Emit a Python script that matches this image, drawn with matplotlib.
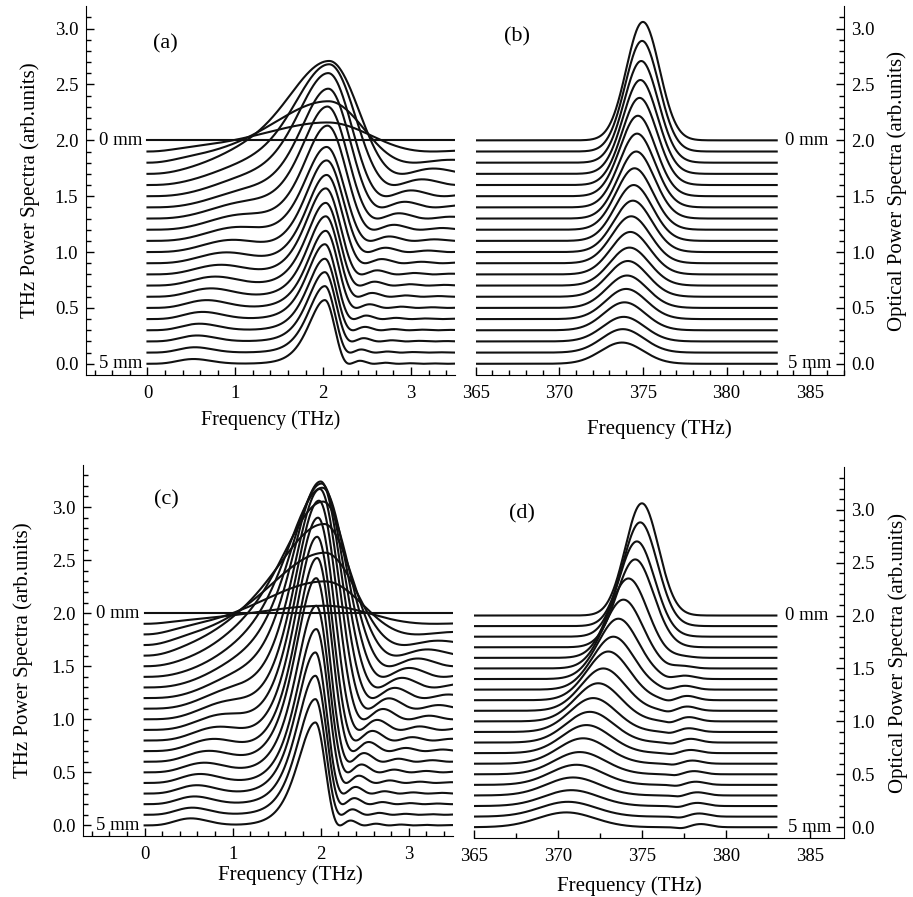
import numpy as np
import matplotlib
matplotlib.use('Agg')
import matplotlib.pyplot as plt

plt.rcParams['font.family'] = ['Liberation Serif', 'DejaVu Serif']

# distance index 0..20 -> 0 mm ... 5 mm, each curve shifted by 0.1
offsets = [2.0 - 0.1 * i for i in range(21)]

# (a) THz spectra: peak height, centre, low-side half width, high-side first-zero width,
#     low-frequency shoulder height / centre / width
a_h  = [0.0, 0.26, 0.55, 1.01, 1.08, 1.10, 1.06, 1.00, 0.93, 0.84, 0.82, 0.79, 0.77, 0.74, 0.72, 0.69, 0.67, 0.64, 0.62, 0.595, 0.57]
a_fc = [2.05, 2.05, 2.06, 2.07, 2.07, 2.06, 2.06, 2.05, 2.05, 2.04, 2.04, 2.04, 2.03, 2.03, 2.03, 2.03, 2.02, 2.02, 2.02, 2.02, 2.02]
a_hw = [0.9, 0.90, 0.80, 0.62, 0.52, 0.45, 0.40, 0.36, 0.33, 0.31, 0.29, 0.28, 0.27, 0.26, 0.25, 0.245, 0.24, 0.235, 0.23, 0.225, 0.22]
a_wr = [1.0, 1.20, 0.98, 0.83, 0.74, 0.66, 0.61, 0.57, 0.53, 0.50, 0.47, 0.44, 0.41, 0.39, 0.37, 0.35, 0.33, 0.32, 0.31, 0.29, 0.28]
a_b  = [0.0, 0.0, 0.0, 0.06, 0.08, 0.10, 0.11, 0.12, 0.12, 0.115, 0.105, 0.095, 0.085, 0.08, 0.075, 0.07, 0.065, 0.06, 0.055, 0.05, 0.045]
a_fb = [1.0, 1.0, 1.0, 1.0, 1.0, 1.05, 1.07, 1.06, 1.04, 1.0, 0.95, 0.89, 0.83, 0.77, 0.72, 0.67, 0.62, 0.58, 0.55, 0.52, 0.50]
a_sb = [0.5, 0.5, 0.5, 0.5, 0.5, 0.5, 0.5, 0.5, 0.48, 0.46, 0.44, 0.42, 0.40, 0.38, 0.36, 0.34, 0.33, 0.32, 0.31, 0.30, 0.30]

# (c) THz spectra, second case
c_h  = [0.0, 0.17, 0.50, 0.87, 1.24, 1.55, 1.78, 1.92, 2.04, 2.07, 2.06, 2.00, 1.92, 1.82, 1.73, 1.57, 1.45, 1.33, 1.21, 1.09, 0.97]
c_fc = [2.05, 2.05, 2.05, 2.05, 2.04, 2.03, 2.02, 2.01, 2.00, 1.99, 1.98, 1.97, 1.96, 1.96, 1.95, 1.95, 1.95, 1.94, 1.94, 1.94, 1.94]
c_hw = [1.0, 1.00, 0.90, 0.80, 0.70, 0.60, 0.52, 0.46, 0.41, 0.37, 0.34, 0.32, 0.30, 0.29, 0.28, 0.27, 0.26, 0.255, 0.25, 0.245, 0.24]
c_wr = [1.0, 1.25, 1.05, 0.90, 0.82, 0.75, 0.69, 0.64, 0.59, 0.55, 0.51, 0.47, 0.44, 0.41, 0.38, 0.36, 0.34, 0.32, 0.31, 0.295, 0.28]
c_b  = [0.0, 0.0, 0.0, 0.0, 0.05, 0.08, 0.10, 0.12, 0.13, 0.14, 0.14, 0.13, 0.12, 0.11, 0.10, 0.09, 0.085, 0.08, 0.075, 0.07, 0.07]
c_fb = [1.0, 1.0, 1.0, 1.0, 1.0, 1.05, 1.05, 1.03, 1.0, 0.96, 0.92, 0.87, 0.82, 0.77, 0.72, 0.67, 0.62, 0.58, 0.55, 0.52, 0.50]
c_sb = [0.5, 0.5, 0.5, 0.5, 0.5, 0.5, 0.5, 0.48, 0.46, 0.44, 0.42, 0.40, 0.38, 0.36, 0.35, 0.34, 0.33, 0.32, 0.31, 0.30, 0.30]

# (b) optical spectra: peak height, centre (THz), width
b_h  = [1.06, 0.99, 0.91, 0.84, 0.78, 0.72, 0.66, 0.60, 0.55, 0.50, 0.46, 0.42, 0.38, 0.34, 0.32, 0.29, 0.27, 0.25, 0.22, 0.21, 0.19]
b_fc = [375.0, 374.95, 374.9, 374.85, 374.8, 374.7, 374.65, 374.6, 374.5, 374.45, 374.4, 374.3, 374.25, 374.2, 374.1, 374.05, 374.0, 373.9, 373.85, 373.8, 373.75]
b_w  = [1.40, 1.42, 1.44, 1.46, 1.48, 1.50, 1.52, 1.54, 1.56, 1.58, 1.60, 1.62, 1.64, 1.66, 1.68, 1.70, 1.72, 1.74, 1.76, 1.78, 1.80]

# (d) optical spectra, second case, with a weak satellite on the blue side
d_h  = [1.06, 0.98, 0.90, 0.83, 0.75, 0.65, 0.57, 0.50, 0.46, 0.40, 0.36, 0.32, 0.29, 0.265, 0.24, 0.21, 0.19, 0.17, 0.15, 0.14, 0.14]
d_fc = [375.0, 374.9, 374.7, 374.6, 374.2, 373.9, 373.6, 373.3, 373.0, 372.7, 372.4, 372.1, 371.9, 371.7, 371.5, 371.3, 371.1, 370.9, 370.8, 370.6, 370.5]
d_w  = [1.40, 1.45, 1.5, 1.55, 1.6, 1.65, 1.7, 1.75, 1.8, 1.85, 1.9, 1.95, 2.0, 2.05, 2.1, 2.15, 2.2, 2.25, 2.3, 2.35, 2.4]
d_s  = [0.0, 0.0, 0.0, 0.0, 0.01, 0.02, 0.03, 0.035, 0.04, 0.04, 0.04, 0.035, 0.035, 0.03, 0.03, 0.03, 0.03, 0.03, 0.03, 0.03, 0.03]
d_fs = [377.5, 377.5, 377.5, 377.5, 377.5, 377.5, 377.6, 377.6, 377.7, 377.7, 377.8, 377.8, 377.9, 377.9, 378.0, 378.1, 378.2, 378.3, 378.3, 378.4, 378.5]

f_thz = np.linspace(0, 3.5, 800)
f_opt = np.linspace(365, 383, 700)


def thz_shape(f, h, fc, hw, wr, b, fb, sb):
    x = f - fc
    hi = np.sinc(np.clip(x, 0, None) / wr) ** 2
    lo = 1.0 / np.cosh(np.clip(-x, 0, None) / (hw / 0.8814)) ** 2
    main = np.where(x >= 0, hi, lo)
    bump = b * np.exp(-((f - fb) / sb) ** 2)
    ramp = 1 - np.exp(-(f / 0.3) ** 2)
    return (h * main + bump) * ramp


def common_ticks(ax, ylim):
    ax.set_ylim(*ylim)
    ax.spines['top'].set_visible(False)
    ax.set_yticks([0.0, 0.5, 1.0, 1.5, 2.0, 2.5, 3.0])
    ax.set_yticks(np.arange(0, ylim[1], 0.1), minor=True)
    ax.yaxis.set_major_formatter(matplotlib.ticker.FormatStrFormatter('%.1f'))
    ax.tick_params(which='both', direction='in', labelsize=13.5)
    ax.tick_params(which='major', length=6, width=1)
    ax.tick_params(which='minor', length=3.5, width=1)
    ax.tick_params(axis='x', which='major', pad=7)
    ax.tick_params(axis='y', which='major', pad=5.5)


def style_thz(ax, ylim):
    common_ticks(ax, ylim)
    ax.set_xlim(-0.7, 3.5)
    ax.spines['right'].set_visible(False)
    ax.set_xticks([0, 1, 2, 3])
    ax.set_xticks(np.arange(-0.6, 3.5, 0.2), minor=True)
    ax.set_ylabel('THz Power Spectra (arb.units)', fontsize=15)
    ax.text(-0.06, 2.0, '0 mm', ha='right', va='center', fontsize=13.5)
    ax.text(-0.06, 0.0, '5 mm', ha='right', va='center', fontsize=13.5)


def style_opt(ax, ylim, minor_step):
    common_ticks(ax, ylim)
    ax.set_xlim(365, 387)
    ax.spines['left'].set_visible(False)
    ax.yaxis.tick_right()
    ax.yaxis.set_label_position('right')
    ax.set_xticks([365, 370, 375, 380, 385])
    ax.set_xticks(np.arange(365, 387.1, minor_step), minor=True)
    ax.set_ylabel('Optical Power Spectra (arb.units)', fontsize=15)
    ax.text(383.5, 2.0, '0 mm', ha='left', va='center', fontsize=13.5)
    ax.text(383.7, 0.0, '5 mm', ha='left', va='center', fontsize=13.5)


fig = plt.figure(figsize=(9.13, 8.97), dpi=100)
ax_a = fig.add_axes([0.0942, 0.582, 0.404, 0.411])
ax_b = fig.add_axes([0.521, 0.582, 0.403, 0.411])
ax_c = fig.add_axes([0.0909, 0.068, 0.405, 0.414])
ax_d = fig.add_axes([0.519, 0.066, 0.405, 0.413])

for i in range(21):
    y = thz_shape(f_thz, a_h[i], a_fc[i], a_hw[i], a_wr[i], a_b[i], a_fb[i], a_sb[i])
    ax_a.plot(f_thz, offsets[i] + y, color='#111111', lw=1.5)
    y = thz_shape(f_thz, c_h[i], c_fc[i], c_hw[i], c_wr[i], c_b[i], c_fb[i], c_sb[i])
    ax_c.plot(f_thz, offsets[i] + y, color='#111111', lw=1.5)
    y = b_h[i] * np.exp(-((f_opt - b_fc[i]) / b_w[i]) ** 2)
    ax_b.plot(f_opt, offsets[i] + y, color='#111111', lw=1.5)
    y = d_h[i] * np.exp(-((f_opt - d_fc[i]) / d_w[i]) ** 2) \
        + d_s[i] * np.exp(-((f_opt - d_fs[i]) / 0.8) ** 2) \
        - d_s[i] * 0.4 * np.exp(-((f_opt - d_fs[i] + 1.1) / 0.5) ** 2)
    ax_d.plot(f_opt, offsets[i] + y, color='#111111', lw=1.5)

style_thz(ax_a, (-0.1, 3.2))
style_thz(ax_c, (-0.1, 3.4))
style_opt(ax_b, (-0.1, 3.2), 1)
style_opt(ax_d, (-0.1, 3.4), 2.5)

ax_a.set_xlabel('Frequency (THz)', fontsize=14.5)
ax_b.set_xlabel('Frequency (THz)', fontsize=15)
ax_c.set_xlabel('Frequency (THz)', fontsize=15)
ax_d.set_xlabel('Frequency (THz)', fontsize=15)
ax_a.xaxis.set_label_coords(0.5, -0.095)
ax_b.xaxis.set_label_coords(0.5, -0.12)
ax_c.xaxis.set_label_coords(0.56, -0.08)
ax_d.xaxis.set_label_coords(0.42, -0.105)
ax_a.yaxis.set_label_coords(-0.124, 0.5)
ax_c.yaxis.set_label_coords(-0.136, 0.5)
ax_b.yaxis.set_label_coords(1.12, 0.5)
ax_d.yaxis.set_label_coords(1.12, 0.5)

ax_a.text(0.2, 2.86, '(a)', ha='center', va='center', fontsize=16)
ax_b.text(367.5, 2.93, '(b)', ha='center', va='center', fontsize=16)
ax_c.text(0.25, 3.07, '(c)', ha='center', va='center', fontsize=16)
ax_d.text(367.85, 2.96, '(d)', ha='center', va='center', fontsize=16)

fig.savefig('out.png', dpi=100)
